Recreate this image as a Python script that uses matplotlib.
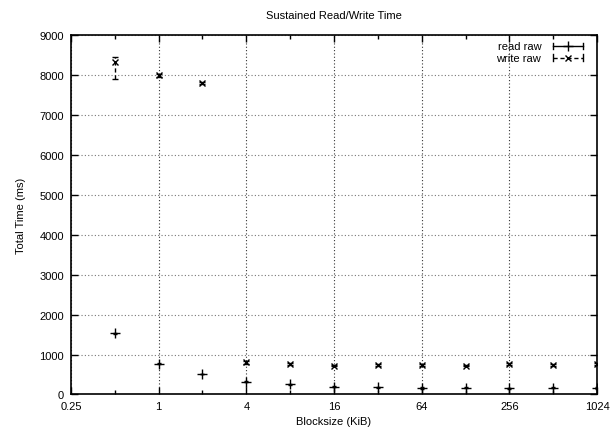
import matplotlib
matplotlib.use("Agg")
import matplotlib.pyplot as plt
from matplotlib.ticker import FixedLocator, NullFormatter
import numpy as np

plt.rcParams['font.family'] = ['Liberation Sans', 'DejaVu Sans']

# Block sizes (KiB)
blocksize = [0.5, 1, 2, 4, 8, 16, 32, 64, 128, 256, 512, 1024]

# Read timings (ms): value, lower bound, upper bound
read_raw = [1530, 775, 515, 320, 250, 190, 175, 160, 170, 150, 170, 160]
read_low = [1520, 765, 505, 310, 240, 175, 165, 145, 160, 135, 160, 145]
read_high = [1540, 785, 525, 330, 260, 205, 185, 175, 180, 165, 180, 175]

# Write timings (ms): value, lower bound, upper bound
write_raw = [8330, 7990, 7800, 810, 770, 725, 740, 735, 725, 770, 740, 760]
write_low = [7900, 7955, 7765, 775, 745, 705, 720, 715, 710, 740, 725, 735]
write_high = [8450, 8025, 7835, 845, 795, 745, 760, 755, 740, 800, 755, 785]

x_ticks = [0.25, 1, 4, 16, 64, 256, 1024]
x_tick_labels = ["0.25", "1", "4", "16", "64", "256", "1024"]
x_minor = [0.5, 2, 8, 32, 128, 512]
y_ticks = list(range(0, 9001, 1000))

fig = plt.figure(figsize=(6.12, 4.31), dpi=100)
ax = fig.add_axes([0.116, 0.0824, 0.9755 - 0.116, 0.9165 - 0.0824])

r = np.array(read_raw)
w = np.array(write_raw)
r_err = [r - np.array(read_low), np.array(read_high) - r]
w_err = [w - np.array(write_low), np.array(write_high) - w]

ax.errorbar(blocksize, read_raw, yerr=r_err, fmt='+', color='black',
            ms=7, mew=1.0, elinewidth=1.0, capsize=1.5, capthick=1.0, zorder=4)
eb = ax.errorbar(blocksize, write_raw, yerr=w_err, fmt='x', color='black',
                 ms=5, mew=1.0, elinewidth=1.0, capsize=2, capthick=1.0, zorder=4)
for lc in eb[2]:
    lc.set_linestyle((0, (3, 2)))

ax.set_xscale('log', base=2)
ax.set_xlim(0.25, 1024)
ax.set_ylim(0, 9000)
ax.xaxis.set_major_locator(FixedLocator(x_ticks))
ax.set_xticklabels(x_tick_labels)
ax.xaxis.set_minor_locator(FixedLocator(x_minor))
ax.xaxis.set_minor_formatter(NullFormatter())
ax.set_yticks(y_ticks)
ax.yaxis.set_minor_locator(FixedLocator([]))

ax.tick_params(axis='both', which='major', direction='in', length=5, width=1.0,
               top=True, right=True, labelsize=8, pad=5)
ax.tick_params(axis='x', which='minor', direction='in', length=3, width=1.0,
               top=True, bottom=True)

ax.grid(True, which='major', axis='x', color='#333333', linestyle=(0, (1, 2)), linewidth=0.8)
ax.grid(True, which='major', axis='y', color='#777777', linestyle=(0, (1, 2)), linewidth=0.8)
ax.set_axisbelow(True)
for s in ax.spines.values():
    s.set_linewidth(1.2)

ax.set_title("Sustained Read/Write Time", fontsize=8, pad=12)
ax.set_xlabel("Blocksize (KiB)", fontsize=8, labelpad=3)
ax.set_ylabel("Total Time (ms)", fontsize=8, labelpad=10)

# Key in the upper right, gnuplot style: label then a line sample
tr = ax.transAxes
key_rows = [("read raw", '-', '+', 7), ("write raw", (0, (3, 2)), 'x', 5)]
for i, (label, ls, mk, ms) in enumerate(key_rows):
    yk = 0.970 - i * 0.033
    ax.text(0.894, yk, label, transform=tr, ha='right', va='center', fontsize=8)
    ax.plot([0.916, 0.973], [yk, yk], transform=tr, color='black', lw=1.0,
            linestyle=ls, clip_on=False)
    ax.plot([0.9445], [yk], transform=tr, color='black', marker=mk, ms=ms,
            mew=1.0, linestyle='none', clip_on=False)
    for xe in (0.916, 0.973):
        ax.plot([xe, xe], [yk - 0.009, yk + 0.009], transform=tr,
                color='black', lw=1.0, clip_on=False)

fig.savefig("out.png", dpi=100)
